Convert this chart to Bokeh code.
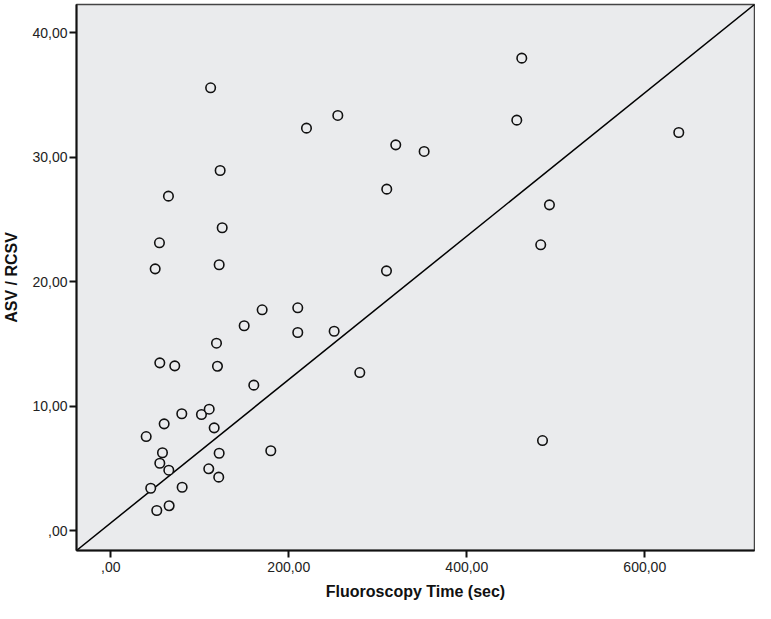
from bokeh.plotting import figure
from bokeh.models import FixedTicker, Range1d
from bokeh.embed import file_html
from bokeh.resources import INLINE

# Data
fluoro_time = [112.2, 219.9, 122.9, 64.8, 125.2, 54.7, 49.9, 121.8, 170.1, 210.1,
               149.9, 210.1, 118.8, 55.1, 71.9, 119.9, 160.7, 79.8, 101.9, 110.6,
               60.0, 116.2, 39.8, 58.1, 55.1, 65.2, 121.8, 179.8, 110.1, 121.3,
               44.9, 80.2, 51.7, 65.6, 461.8, 255.1, 456.2, 320.2, 352.1, 310.1,
               492.9, 638.2, 483.1, 485.1, 309.8, 251.0, 279.8]
asv_rcsv = [35.58, 32.34, 28.94, 26.88, 24.34, 23.13, 21.04, 21.37, 17.75, 17.91,
            16.47, 15.93, 15.07, 13.49, 13.25, 13.22, 11.70, 9.40, 9.34, 9.77,
            8.59, 8.27, 7.57, 6.27, 5.43, 4.87, 6.23, 6.43, 4.98, 4.31,
            3.42, 3.50, 1.63, 2.01, 37.96, 33.36, 32.98, 31.00, 30.47, 27.44,
            26.18, 31.99, 22.97, 7.25, 20.88, 16.03, 12.71]

x_ticks = [0, 200, 400, 600]
x_tick_labels = [",00", "200,00", "400,00", "600,00"]
y_ticks = [0, 10, 20, 30, 40]
y_tick_labels = [",00", "10,00", "20,00", "30,00", "40,00"]

x_start, x_end = -38.5, 723.3
y_start, y_end = -1.58, 42.27

bg = "#eaebed"
font = "Liberation Sans"

p = figure(width=755, height=603, output_backend="svg", toolbar_location=None,
           x_range=Range1d(x_start, x_end), y_range=Range1d(y_start, y_end),
           min_border_left=76, min_border_right=1, min_border_top=4, min_border_bottom=53)

p.background_fill_color = bg
p.border_fill_color = "white"
p.outline_line_color = "#444444"
p.outline_line_width = 1.5
p.grid.visible = False

# Reference line corner to corner
p.line([x_start, x_end], [y_start, y_end], line_color="black", line_width=1.5)

p.scatter(fluoro_time, asv_rcsv, marker="circle", size=9.5, fill_color=bg,
          line_color="#111111", line_width=1.6)

for ax, ticks, labels in ((p.xaxis[0], x_ticks, x_tick_labels), (p.yaxis[0], y_ticks, y_tick_labels)):
    ax.ticker = FixedTicker(ticks=ticks)
    ax.major_label_overrides = {t: l for t, l in zip(ticks, labels)}
    ax.minor_tick_line_color = None
    ax.major_tick_in = 0
    ax.major_tick_out = 7
    ax.major_tick_line_width = 2
    ax.major_tick_line_color = "#111111"
    ax.axis_line_color = "#111111"
    ax.axis_line_width = 2
    ax.major_label_text_font = font
    ax.major_label_text_font_size = "14px"
    ax.major_label_text_color = "#222222"
    ax.axis_label_text_font = font
    ax.axis_label_text_font_size = "16px"
    ax.axis_label_text_font_style = "bold"
    ax.axis_label_text_color = "#111111"

p.xaxis.axis_label = "Fluoroscopy Time (sec)"
p.yaxis.axis_label = "ASV / RCSV"
p.xaxis.major_label_standoff = 4
p.xaxis.axis_label_standoff = 8
p.yaxis.major_label_standoff = 2
p.yaxis.axis_label_standoff = 9

open("out.html", "w").write(file_html(p, INLINE))
